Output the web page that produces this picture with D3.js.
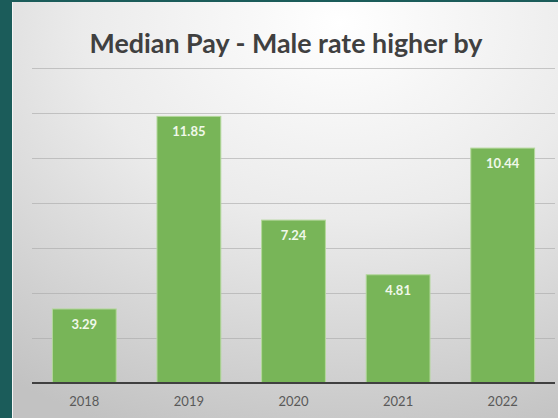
<!DOCTYPE html>
<html>
<head>
<meta charset="utf-8">
<script src="https://cdn.jsdelivr.net/npm/d3@7"></script>
<style>
  html, body { margin: 0; padding: 0; background: #1b5c5a; }
  svg { display: block; }
</style>
</head>
<body>
<svg width="558" height="418"></svg>
<script>
"use strict";
// values
const years = ["2018", "2019", "2020", "2021", "2022"];
const gapValues = [3.29, 11.85, 7.24, 4.81, 10.44];
const gridTicks = [0, 2, 4, 6, 8, 10, 12, 14];
const chartTitle = "Median Pay - Male rate higher by";

window.addEventListener("load", drawChart);

function drawChart() {
    const svg = d3.select("svg");
    const left = 32, right = 555, top = 68, bottom = 383;

    // panel background: light radial gradient over the teal slide
    const defs = svg.append("defs");
    const grad = defs.append("radialGradient")
        .attr("id", "bg")
        .attr("cx", "60%").attr("cy", "5%").attr("r", "105%");
    grad.append("stop").attr("offset", "0%").attr("stop-color", "#ffffff");
    grad.append("stop").attr("offset", "45%").attr("stop-color", "#ebebeb");
    grad.append("stop").attr("offset", "100%").attr("stop-color", "#c2c2c2");

    svg.append("rect")
        .attr("x", 12).attr("y", 2)
        .attr("width", 546).attr("height", 416)
        .attr("fill", "url(#bg)");
    svg.append("line")
        .attr("x1", 12.5).attr("x2", 12.5).attr("y1", 2).attr("y2", 418)
        .attr("stroke", "#f4f4f4").attr("stroke-width", 1);

    const x = d3.scaleBand()
        .domain(years)
        .range([left, right])
        .paddingInner(0.39)
        .paddingOuter(0.195);

    const y = d3.scaleLinear()
        .domain([0, 14])
        .range([bottom, top]);

    // gridlines
    svg.append("g")
        .attr("transform", `translate(${left},0)`)
        .call(d3.axisLeft(y).tickValues(gridTicks.slice(1)).tickSize(-(right - left)).tickFormat(""))
        .call(g => g.select(".domain").remove())
        .call(g => g.selectAll(".tick line").attr("stroke", "#a8a8a8").attr("stroke-opacity", 0.6));

    // bars
    svg.selectAll("rect.bar")
        .data(gapValues)
        .join("rect")
        .attr("class", "bar")
        .attr("x", (d, i) => x(years[i]))
        .attr("y", d => y(d))
        .attr("width", x.bandwidth())
        .attr("height", d => bottom - y(d))
        .attr("fill", "#78b558")
        .attr("stroke", "#b4d89c")
        .attr("stroke-width", 1);

    // value labels inside the top of each bar
    svg.selectAll("text.val")
        .data(gapValues)
        .join("text")
        .attr("class", "val")
        .attr("x", (d, i) => x(years[i]) + x.bandwidth() / 2)
        .attr("y", d => y(d) + 20)
        .attr("text-anchor", "middle")
        .attr("font-family", "Lato, sans-serif")
        .attr("font-weight", "bold")
        .attr("font-size", 13)
        .attr("fill", "#f0f8ea")
        .text(d => d.toFixed(2));

    // category axis
    const xAxis = svg.append("g")
        .attr("transform", `translate(0,${bottom})`)
        .call(d3.axisBottom(x).tickSize(0).tickPadding(14));
    xAxis.select(".domain")
        .attr("stroke", "#404040")
        .attr("stroke-width", 2)
        .attr("d", `M${left},0H${right}`);
    xAxis.selectAll("text")
        .attr("font-family", "Lato, sans-serif")
        .attr("font-size", 13)
        .attr("fill", "#595959");

    // title
    svg.append("text")
        .attr("x", 286)
        .attr("y", 53)
        .attr("text-anchor", "middle")
        .attr("font-family", "Lato, sans-serif")
        .attr("font-weight", "bold")
        .attr("font-size", 26)
        .attr("fill", "#404040")
        .attr("textLength", 393)
        .attr("lengthAdjust", "spacingAndGlyphs")
        .text(chartTitle);
}
</script>
</body>
</html>
